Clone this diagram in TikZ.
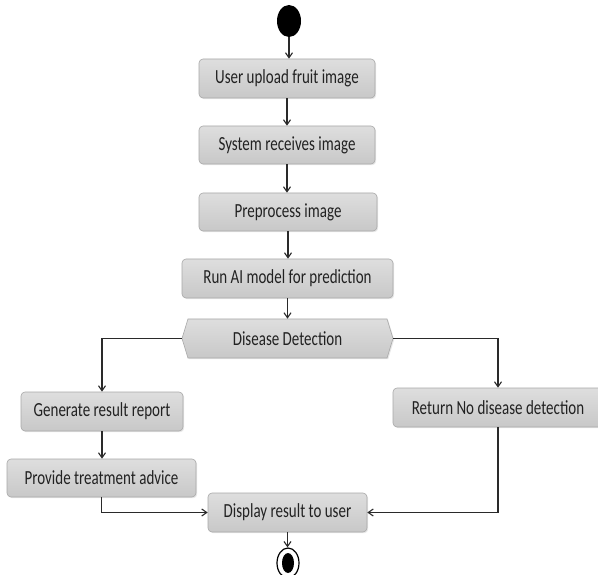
\documentclass[tikz,border=0pt]{standalone}
\usepackage{fontspec}
\setmainfont{Carlito}[FakeStretch=0.75]
\usetikzlibrary{arrows.meta,shapes.geometric,shapes.symbols,shadows}
\definecolor{boxline}{HTML}{A8A8A8}
\definecolor{boxtop}{HTML}{DEDEDE}
\definecolor{boxbot}{HTML}{C8C8C8}
\definecolor{ink}{HTML}{222222}
\definecolor{wire}{HTML}{2A2A2A}
\tikzset{
  actbox/.style={draw=boxline, line width=0.6pt, rounded corners=4pt,
    top color=boxtop, bottom color=boxbot, text=ink, inner sep=0pt,
    font=\fontsize{20}{24}\selectfont,
    drop shadow={opacity=0.18, shadow xshift=1.2pt, shadow yshift=-1.2pt}},
  hexbox/.style={draw=boxline, line width=0.6pt, signal, signal to=west and east,
    signal pointer angle=146, top color=boxtop, bottom color=boxbot, text=ink,
    inner sep=0pt, font=\fontsize{20}{24}\selectfont,
    drop shadow={opacity=0.18, shadow xshift=1.2pt, shadow yshift=-1.2pt}},
  arr/.style={draw=wire, line width=1.2pt, -{Straight Barb[length=5pt,width=7pt,line width=1.1pt]}},
  startdot/.style={ellipse, fill=black, minimum width=24pt, minimum height=32pt, inner sep=0pt},
}
\begin{document}
\begin{tikzpicture}[x=1pt,y=-1pt]
\useasboundingbox (0,0) rectangle (598,575);
\node[startdot] (start) at (289,21) {};
\node[actbox, minimum width=176pt, minimum height=39pt] (b1) at (287,78.5) {User upload fruit image};
\node[actbox, minimum width=176pt, minimum height=38pt] (b2) at (287,145) {System receives image};
\node[actbox, minimum width=178pt, minimum height=38pt] (b3) at (288,212) {Preprocess image};
\node[actbox, minimum width=211pt, minimum height=39pt] (b4) at (287.5,278.5) {Run AI model for prediction};
\node[hexbox, minimum width=211pt, minimum height=39pt] (dec) at (287.5,338.5) {Disease Detection};
\node[actbox, minimum width=162pt, minimum height=39pt] (gen) at (102,411.5) {Generate result report};
\node[actbox, minimum width=189pt, minimum height=38pt] (prov) at (101.5,478) {Provide treatment advice};
\node[actbox, minimum width=210pt, minimum height=39pt] (ret) at (498,407.5) {Return No disease detection};
\node[actbox, minimum width=159pt, minimum height=39pt] (disp) at (287.5,512.5) {Display result to user};
\node[ellipse, draw=black, line width=1.2pt, fill=white, minimum width=22pt, minimum height=30pt, inner sep=0pt] (end) at (288,563) {};
\node[ellipse, fill=black, minimum width=12pt, minimum height=20pt, inner sep=0pt] (endin) at (end.center) {};
\draw[arr] (start.south) -- (start.south |- b1.north);
\draw[arr] (b1.south) -- (b2.north);
\draw[arr] (b2.south) -- (b2.south |- b3.north);
\draw[arr] (b3.south) -- (b3.south |- b4.north);
\draw[arr] (b4.south) -- (b4.south |- dec.north);
\draw[arr] (dec.west) -| (gen.north);
\draw[arr] (dec.east) -| (ret.north);
\draw[arr] (gen.south) -- (gen.south |- prov.north);
\draw[arr] (prov.south) |- (disp.west);
\draw[arr] (ret.south) |- (disp.east);
\draw[arr] (disp.south) -- (disp.south |- end.north);
\end{tikzpicture}
\end{document}
